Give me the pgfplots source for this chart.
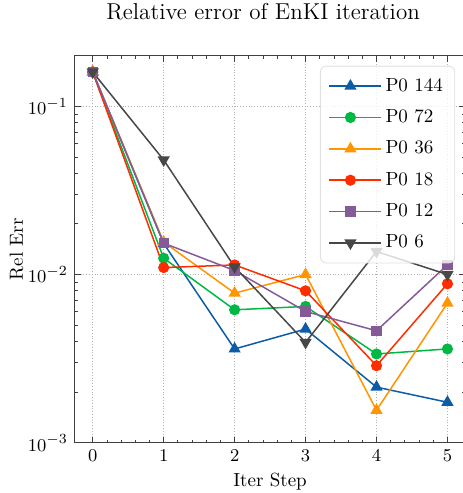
\documentclass[border=0pt]{standalone}
\usepackage{pgfplots}
\pgfplotsset{compat=1.18}
\definecolor{cA}{HTML}{0C5DA5}
\definecolor{cB}{HTML}{00B945}
\definecolor{cC}{HTML}{FF9500}
\definecolor{cD}{HTML}{FF2C00}
\definecolor{cE}{HTML}{845B97}
\definecolor{cF}{HTML}{474747}
\begin{document}
\begin{tikzpicture}
\useasboundingbox (-37.5pt,-25.15pt) rectangle (193.5pt,221.35pt);
\begin{axis}[
  at={(0,0)}, anchor=south west,
  scale only axis, width=195.1pt, height=193.5pt,
  ymode=log, ymin=1e-3, ymax=0.2,
  xmin=-0.25, xmax=5.25,
  xtick={0,1,2,3,4,5}, minor x tick num=4,
  ytick={1e-3,1e-2,1e-1},
  tick align=inside, xtick pos=both, ytick pos=both,
  major tick length=3pt, minor tick length=1.5pt,
  axis line style={black!75, line width=0.5pt},
  every tick/.style={black!75, line width=0.4pt},
  grid=major, major grid style={densely dotted, gray!60, line width=0.4pt},
  title={Relative error of EnKI iteration},
  every axis title shift=0pt,
  title style={at={(axis description cs:0.5,1)}, anchor=base, yshift=18pt, xshift=-3.5pt, font=\fontsize{11.5}{13}\selectfont},
  xlabel={Iter Step},
  xlabel style={at={(axis description cs:0.5,0)}, anchor=base, yshift=-22pt, font=\fontsize{9.5}{11}\selectfont},
  ylabel={Rel Err},
  ylabel style={at={(axis description cs:-0.15,0.5)}, anchor=center, font=\fontsize{9.5}{11}\selectfont},
  tick label style={font=\fontsize{9.5}{11}\selectfont},
  legend style={at={(axis description cs:1,1)}, anchor=north east, xshift=-5pt, yshift=-5pt,
    draw=gray!25, draw opacity=1, rounded corners=3pt, fill=white, fill opacity=0.8, text opacity=1,
    font=\fontsize{9.5}{11}\selectfont, row sep=3.7pt, inner xsep=4pt, inner ysep=4pt},
  legend cell align=left,
  legend image code/.code={\draw[fill opacity=1, draw opacity=1, mark repeat=2,mark phase=2] plot coordinates {(0cm,0cm) (0.375cm,0cm) (0.75cm,0cm)};
    \path (0cm,0cm) -- (0.75cm+4.5pt,0cm);},
  every axis plot/.append style={line width=0.75pt, mark size=2.4pt},
]
\addplot[cA, mark=triangle*, mark size=2.8pt] coordinates {(0,0.160) (1,0.0153) (2,0.00361) (3,0.00474) (4,0.00214) (5,0.00174)};
\addlegendentry{P0 144}
\addplot[cB, mark=*] coordinates {(0,0.160) (1,0.0125) (2,0.00617) (3,0.00646) (4,0.00337) (5,0.00361)};
\addlegendentry{P0 72}
\addplot[cC, mark=triangle*, mark size=2.8pt] coordinates {(0,0.160) (1,0.0156) (2,0.00775) (3,0.0100) (4,0.00156) (5,0.00676)};
\addlegendentry{P0 36}
\addplot[cD, mark=*] coordinates {(0,0.160) (1,0.0110) (2,0.0114) (3,0.0080) (4,0.00287) (5,0.00881)};
\addlegendentry{P0 18}
\addplot[cE, mark=square*, mark size=2.2pt] coordinates {(0,0.160) (1,0.01536) (2,0.01056) (3,0.00603) (4,0.00463) (5,0.01142)};
\addlegendentry{P0 12}
\addplot[cF, mark=triangle*, mark size=2.8pt, mark options={rotate=180}] coordinates {(0,0.160) (1,0.048) (2,0.0111) (3,0.00395) (4,0.0137) (5,0.0100)};
\addlegendentry{P0 6}
\end{axis}
\end{tikzpicture}
\end{document}
